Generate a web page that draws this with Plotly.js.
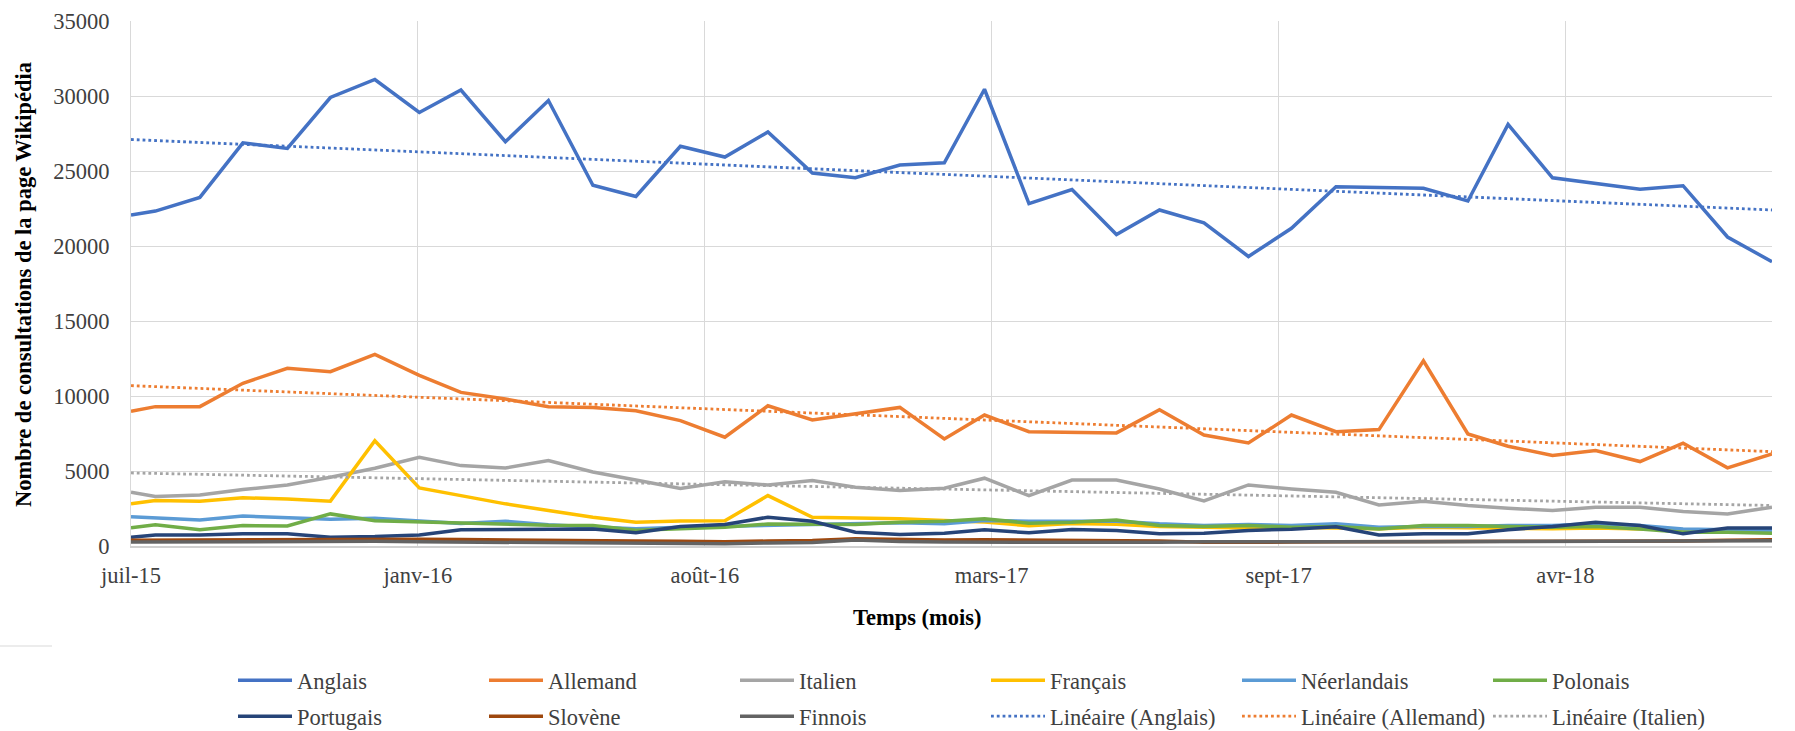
<!DOCTYPE html>
<html>
<head>
<meta charset="utf-8">
<script src="https://cdn.plot.ly/plotly-3.0.1.min.js"></script>
<style>
html,body{margin:0;padding:0;background:#ffffff;}
#chart{width:1795px;height:731px;}
</style>
</head>
<body>
<div id="chart"></div>
<script>
// ---- Data ----
const dates = [
  "2015-07-15","2015-08-01","2015-09-01","2015-10-01","2015-11-01","2015-12-01",
  "2016-01-01","2016-02-01","2016-03-01","2016-04-01","2016-05-01","2016-06-01",
  "2016-07-01","2016-08-01","2016-09-01","2016-10-01","2016-11-01","2016-12-01",
  "2017-01-01","2017-02-01","2017-03-01","2017-04-01","2017-05-01","2017-06-01",
  "2017-07-01","2017-08-01","2017-09-01","2017-10-01","2017-11-01","2017-12-01",
  "2018-01-01","2018-02-01","2018-03-01","2018-04-01","2018-05-01","2018-06-01",
  "2018-07-01","2018-08-01","2018-09-01"
];
const anglais = [22060,22330,23240,26880,26500,29900,31100,28900,30400,26950,29700,24050,
  23300,26650,25930,27600,24870,24550,25400,25550,30450,22830,23760,20770,
  22400,21550,19300,21180,23950,23880,23850,23000,28100,24550,24170,23780,24020,20600,18950];
const allemand = [8980,9290,9290,10850,11850,11620,12770,11380,10240,9800,9290,9240,
  9010,8360,7250,9350,8400,8800,9240,7140,8730,7620,7600,7540,
  9090,7400,6870,8730,7620,7760,12350,7470,6650,6030,6360,5630,6850,5210,6140];
const italien = [3580,3300,3400,3760,4070,4580,5180,5920,5360,5200,5700,4930,
  4400,3830,4290,4070,4360,3920,3700,3850,4520,3360,4400,4400,
  3800,3000,4070,3800,3580,2740,2990,2700,2520,2360,2590,2590,2300,2140,2590];
const francais = [2810,3030,2990,3210,3140,2990,7020,3870,3360,2810,2360,1920,
  1590,1670,1680,3360,1920,1880,1810,1700,1600,1350,1500,1450,
  1300,1250,1200,1250,1200,1150,1250,1200,1150,1150,1200,1150,1100,1000,950];
const neerlandais = [1950,1870,1740,2000,1910,1780,1850,1690,1500,1650,1420,1260,
  1150,1250,1300,1400,1450,1500,1550,1480,1700,1650,1650,1650,
  1480,1370,1430,1370,1480,1250,1300,1300,1370,1370,1480,1370,1140,1080,1030];
const polonais = [1220,1420,1090,1360,1340,2140,1690,1600,1510,1440,1380,1370,
  1050,1150,1250,1470,1440,1440,1590,1650,1810,1520,1590,1740,
  1370,1300,1370,1250,1300,1140,1370,1370,1300,1250,1300,1140,920,920,850];
const portugais = [590,740,740,810,810,590,630,740,1080,1100,1140,1140,
  880,1300,1430,1920,1650,920,770,850,1080,880,1100,1030,
  810,850,1030,1120,1280,740,810,810,1090,1300,1590,1370,810,1200,1200];
const slovene = [380,390,400,400,410,420,440,450,430,420,400,370,
  340,320,290,330,360,480,430,400,420,400,420,380,
  330,250,230,260,280,300,310,330,320,310,300,310,330,380,420];
const finnois = [260,270,280,270,270,300,320,280,260,250,240,230,
  210,180,150,200,230,400,300,260,250,240,240,230,
  250,280,270,260,270,280,290,300,300,300,310,320,330,340,350];

// linear trendlines (end values)
const trendDates = ["2015-07-15","2018-09-01"];
const anglaisTrend = [27100, 22400];
const allemandTrend = [10690, 6290];
const italienTrend = [4870, 2700];

const tickDates = ["2015-07-15","2016-01-31","2016-08-18","2017-03-06","2017-09-22","2018-04-10"];
const tickLabels = ["juil-15","janv-16","août-16","mars-17","sept-17","avr-18"];

const seriesNames = ["Anglais","Allemand","Italien","Français","Néerlandais","Polonais","Portugais","Slovène","Finnois"];
const seriesValues = [anglais,allemand,italien,francais,neerlandais,polonais,portugais,slovene,finnois];
const seriesColors = ["#4472C4","#ED7D31","#A5A5A5","#FFC000","#5B9BD5","#70AD47","#264478","#9E480E","#636363"];

const trendNames = ["Linéaire (Anglais)","Linéaire (Allemand)","Linéaire (Italien)"];
const trendValues = [anglaisTrend, allemandTrend, italienTrend];
const trendColors = ["#4472C4","#ED7D31","#A5A5A5"];

// ---- Build traces ----
const traces = [];
seriesNames.forEach((n, i) => {
  traces.push({
    type: "scatter", mode: "lines", name: n,
    x: dates, y: seriesValues[i],
    line: {color: seriesColors[i], width: 3.5},
    legend: i < 6 ? "legend" : "legend2",
    hoverinfo: "x+y+name"
  });
});
trendNames.forEach((n, i) => {
  traces.push({
    type: "scatter", mode: "lines", name: n,
    x: trendDates, y: trendValues[i],
    line: {color: trendColors[i], width: 2.8, dash: "2.8px,3px"},
    legend: "legend2",
    hoverinfo: "name"
  });
});

const serif = "Liberation Serif, Times New Roman, serif";
const W = 1795, H = 731;
const mL = 131, mR = 23, mT = 21, mB = 185;

const legendCommon = {
  orientation: "h",
  xref: "container", yref: "container",
  xanchor: "left", yanchor: "top",
  font: {family: serif, size: 22.5, color: "#404040"},
  itemwidth: 54,
  entrywidth: 182,
  entrywidthmode: "pixels",
  bgcolor: "rgba(0,0,0,0)",
  traceorder: "normal"
};

const layout = {
  width: W, height: H,
  margin: {l: mL, r: mR, t: mT, b: mB, pad: 0},
  paper_bgcolor: "#ffffff",
  plot_bgcolor: "#ffffff",
  showlegend: true,
  font: {family: serif, size: 22.5, color: "#404040"},
  xaxis: {
    type: "date",
    range: [dates[0], dates[dates.length - 1]],
    tickmode: "array",
    tickvals: tickDates,
    ticktext: tickLabels,
    showgrid: true, gridcolor: "#d9d9d9", gridwidth: 1,
    showline: true, linecolor: "#d0d0d0", linewidth: 1.5,
    zeroline: false,
    ticks: "outside", ticklen: 8, tickcolor: "rgba(0,0,0,0)",
    tickfont: {family: serif, size: 22.5, color: "#404040"},
    fixedrange: true
  },
  yaxis: {
    range: [0, 35000],
    tickmode: "linear", tick0: 0, dtick: 5000,
    tickformat: "d",
    showgrid: true, gridcolor: "#d9d9d9", gridwidth: 1,
    showline: true, linecolor: "#d9d9d9", linewidth: 1,
    zeroline: false,
    ticks: "outside", ticklen: 16, tickcolor: "rgba(0,0,0,0)",
    tickfont: {family: serif, size: 22.5, color: "#404040"},
    fixedrange: true
  },
  legend: Object.assign({}, legendCommon, {x: 233 / W, y: 1 - 659 / H}),
  legend2: Object.assign({}, legendCommon, {x: 233 / W, y: 1 - 695 / H}),
  annotations: [
    {
      text: "<b>Nombre de consultations de la page Wikipédia</b>",
      xref: "paper", yref: "paper",
      x: (23 - mL) / (W - mL - mR), y: 0.497,
      xanchor: "center", yanchor: "middle",
      textangle: -90, showarrow: false,
      font: {family: serif, size: 22.5, color: "#000000"}
    },
    {
      text: "<b>Temps (mois)</b>",
      xref: "paper", yref: "paper",
      x: (917 - mL) / (W - mL - mR), y: (H - mB - 617) / (H - mT - mB),
      xanchor: "center", yanchor: "middle",
      showarrow: false,
      font: {family: serif, size: 22.5, color: "#000000"}
    }
  ],
  shapes: [
    {
      type: "line", xref: "paper", yref: "paper",
      x0: (0 - mL) / (W - mL - mR), x1: (52 - mL) / (W - mL - mR),
      y0: (H - mB - 646) / (H - mT - mB), y1: (H - mB - 646) / (H - mT - mB),
      line: {color: "#d9d9d9", width: 1}
    }
  ]
};

Plotly.newPlot("chart", traces, layout, {displayModeBar: false, staticPlot: true});
</script>
</body>
</html>
